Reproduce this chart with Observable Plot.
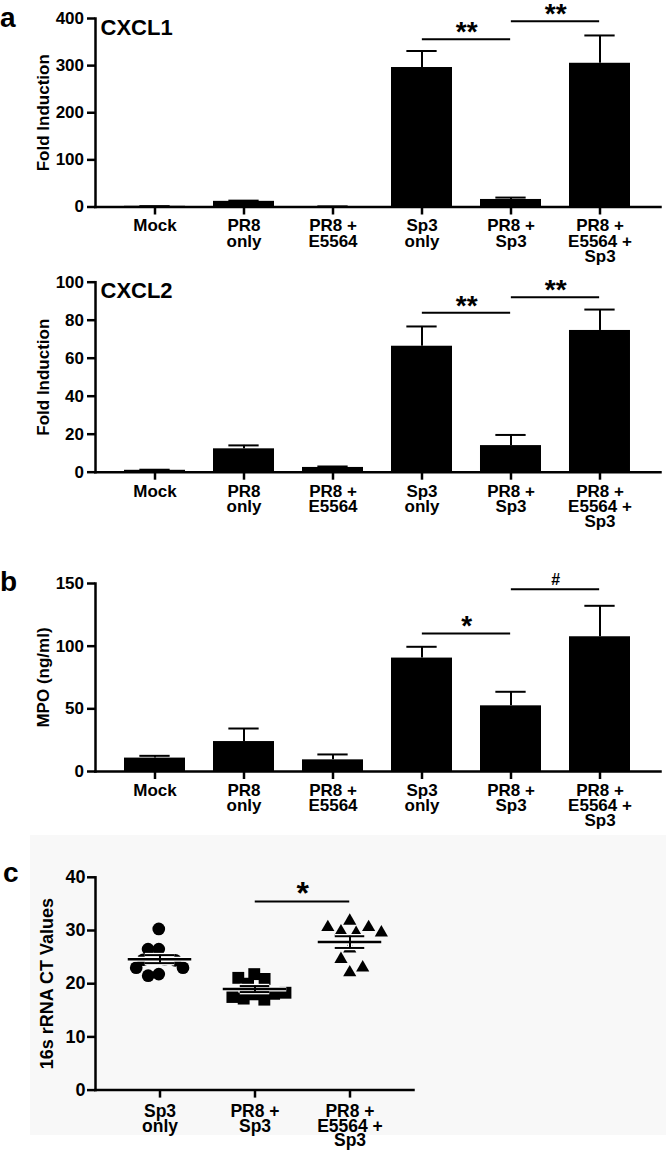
<!DOCTYPE html>
<html><head><meta charset="utf-8">
<script src="https://cdn.jsdelivr.net/npm/d3@7"></script>
<script src="https://cdn.jsdelivr.net/npm/@observablehq/plot@0.6"></script>
<style>
body{margin:0;background:#fff;}
#wrap{position:relative;width:666px;height:1154px;overflow:hidden;font-family:"Liberation Sans",Arial,Helvetica,sans-serif;}
#bgc{position:absolute;left:30px;top:835px;width:636px;height:300px;background:#f8f8f8;}
.letter{position:absolute;font-weight:bold;font-size:28px;line-height:28px;color:#000;}
</style></head><body>
<div id="wrap">
<div id="bgc"></div>
</div>
<script>
// ---------- data ----------
const categories = ["Mock", "PR8 only", "PR8 + E5564", "Sp3 only", "PR8 + Sp3", "PR8 + E5564 + Sp3"];
const categoryLabels = ["Mock", "PR8\nonly", "PR8 +\nE5564", "Sp3\nonly", "PR8 +\nSp3", "PR8 +\nE5564 +\nSp3"];

const cxcl1Mean = [1.5, 12, 1, 296, 16, 305];
const cxcl1Err = [0.3, 1.5, 0.3, 35, 4, 59];
const cxcl1Ticks = [0, 100, 200, 300, 400];
const cxcl1SigFrom = ["Sp3 only", "PR8 + Sp3"];
const cxcl1SigTo = ["PR8 + Sp3", "PR8 + E5564 + Sp3"];
const cxcl1SigY = [356, 394];
const cxcl1SigLabel = ["**", "**"];

const cxcl2Mean = [1, 12.3, 2.5, 66.3, 14, 74.6];
const cxcl2Err = [0.3, 1.8, 0.5, 10.4, 5.6, 11];
const cxcl2Ticks = [0, 20, 40, 60, 80, 100];
const cxcl2SigFrom = ["Sp3 only", "PR8 + Sp3"];
const cxcl2SigTo = ["PR8 + Sp3", "PR8 + E5564 + Sp3"];
const cxcl2SigY = [83.9, 92.1];
const cxcl2SigLabel = ["**", "**"];

const mpoMean = [10.7, 23.9, 9.3, 90.5, 52.4, 107.5];
const mpoErr = [1.8, 10.4, 4.3, 9, 11.2, 24.7];
const mpoTicks = [0, 50, 100, 150];
const mpoSigFrom = ["Sp3 only", "PR8 + Sp3"];
const mpoSigTo = ["PR8 + Sp3", "PR8 + E5564 + Sp3"];
const mpoSigY = [110.1, 145.5];
const mpoSigLabel = ["*", "#"];

const groupsC = ["Sp3 only", "PR8 + Sp3", "PR8 + E5564 + Sp3"];
const groupLabelsC = ["Sp3\nonly", "PR8 +\nSp3", "PR8 +\nE5564 +\nSp3"];
const sp3OnlyCT = [30.3, 26.5, 26.5, 24.7, 24.6, 24.5, 24.4, 23.0, 23.0, 21.8, 21.5];
const pr8Sp3CT = [21.8, 20.0, 20.9, 21.1, 18.0, 17.2, 17.0, 18.1, 17.5, 18.3];
const pr8E5564Sp3CT = [31.8, 29.8, 29.5, 30.6, 30.6, 29.6, 26.6, 24.6, 22.1, 23.0];
const ctTicks = [0, 10, 20, 30, 40];
const ctSigFrom = ["PR8 + Sp3"];
const ctSigTo = ["PR8 + E5564 + Sp3"];
const ctSigY = [35.45];
const ctSigLabel = ["*"];

// ---------- rendering ----------
const W = 666;
const FONT = '"Liberation Sans", Arial, Helvetica, sans-serif';
const wrap = document.getElementById("wrap");
const labelOf = new Map(categories.map((c, i) => [c, categoryLabels[i]]));
const labelOfC = new Map(groupsC.map((c, i) => [c, groupLabelsC[i]]));

function place(svg, top) {
  svg.style.position = "absolute";
  svg.style.left = "0px";
  svg.style.top = top + "px";
  wrap.appendChild(svg);
}
function letter(ch, left, top) {
  const d = document.createElement("div");
  d.className = "letter";
  d.textContent = ch;
  d.style.left = left + "px";
  d.style.top = top + "px";
  wrap.appendChild(d);
}

function barPanel(o) {
  const mL = 95, mR = 6, pi = 0.31, po = 0.314;
  const step = (W - mL - mR) / (categories.length - pi + 2 * po);
  const bw = step * (1 - pi);
  const data = categories.map((c, i) => ({cat: c, v: o.values[i], e: o.errs[i]}));
  const sig = o.sigY.map((y, i) => ({from: o.sigFrom[i], to: o.sigTo[i], y, label: o.sigLabel[i]}));
  const svg = Plot.plot({
    width: W,
    height: o.svgBottom - o.svgTop,
    marginLeft: mL, marginRight: mR,
    marginTop: o.frameTop - o.svgTop,
    marginBottom: o.svgBottom - o.frameBottom,
    style: {fontFamily: FONT, fontWeight: "bold", background: "transparent", overflow: "visible", color: "black"},
    x: {domain: categories, paddingInner: pi, paddingOuter: po, axis: null},
    y: {domain: [0, o.yMax], axis: null},
    marks: [
      Plot.barY(data, {x: "cat", y: "v", fill: "black"}),
      Plot.ruleX(data, {x: "cat", y1: "v", y2: d => d.v + d.e, stroke: "black", strokeWidth: 2}),
      Plot.tickY(data, {x: "cat", y: d => d.v + d.e, stroke: "black", strokeWidth: 2, inset: (bw - 31) / 2}),
      Plot.ruleY(sig, {x1: "from", x2: "to", y: "y", insetLeft: bw / 2, insetRight: bw / 2, stroke: "black", strokeWidth: 2}),
      Plot.text(sig.filter(d => d.label !== "#"), {x: "from", y: "y", text: "label", dx: step / 2, dy: -7, fontSize: 28}),
      Plot.text(sig.filter(d => d.label === "#"), {x: "from", y: "y", text: "label", dx: step / 2, dy: -9.5, fontSize: 16}),
      Plot.axisX({tickFormat: d => labelOf.get(d), tickSize: 8, tickPadding: 5.5, fontSize: 17, lineHeight: 0.9, strokeWidth: 2.5, label: null}),
      Plot.axisY({ticks: o.yTicks, tickSize: 8, tickPadding: 3.5, fontSize: 17, strokeWidth: 2.5, label: null}),
      Plot.frame({anchor: "left", strokeWidth: 2.5}),
      Plot.frame({anchor: "bottom", strokeWidth: 2.5}),
      o.title ? Plot.text([o.title], {frameAnchor: "top-left", textAnchor: "start", lineAnchor: "middle", dx: 5, dy: 9, fontSize: 22}) : null,
      Plot.text([o.yLabel], {frameAnchor: "left", textAnchor: "middle", lineAnchor: "middle", rotate: -90, dx: -52, fontSize: 17})
    ]
  });
  place(svg, o.svgTop);
}

function ctPanel(o) {
  const mL = 95, mR = W - 413, po = 0.165;
  const step = (W - mL - mR) / (groupsC.length + 2 * po);
  const half = step / 2;
  const series = [sp3OnlyCT, pr8Sp3CT, pr8E5564Sp3CT];
  const symbols = ["circle", "square", "triangle"];
  const radii = [6.35, 6.7, 4.9];
  const pads = [-2, -2, 4];
  const stats = groupsC.map((g, i) => {
    const v = series[i];
    const m = d3.mean(v), s = d3.deviation(v) / Math.sqrt(v.length);
    return {g, mean: m, lo: m - s, hi: m + s};
  });
  const sig = ctSigY.map((y, i) => ({from: ctSigFrom[i], to: ctSigTo[i], y, label: ctSigLabel[i]}));
  const meanIn = half - 32, capIn = half - 15;
  const lineMarks = (stroke, sw) => [
    Plot.tickY(stats, {x: "g", y: "mean", inset: meanIn, stroke, strokeWidth: sw + 0.5}),
    Plot.ruleX(stats, {x: "g", y1: "lo", y2: "hi", stroke, strokeWidth: sw}),
    Plot.tickY(stats, {x: "g", y: "lo", inset: capIn, stroke, strokeWidth: sw}),
    Plot.tickY(stats, {x: "g", y: "hi", inset: capIn, stroke, strokeWidth: sw})
  ];
  // dodge is centred on the frame middle (the middle band); shift each group to its own band
  // (the band scale also adds half a band to the dodged position, hence "- half")
  const dotMarks = groupsC.map((g, i) =>
    Plot.dot(series[i].map(v => ({g, v})),
      Plot.dodgeX({anchor: "middle", padding: pads[i]},
        {y: "v", r: radii[i], symbol: symbols[i], fill: "black", dx: (i - (groupsC.length - 1) / 2) * step - half})));
  const svg = Plot.plot({
    width: W,
    height: o.svgBottom - o.svgTop,
    marginLeft: mL, marginRight: mR,
    marginTop: o.frameTop - o.svgTop,
    marginBottom: o.svgBottom - o.frameBottom,
    style: {fontFamily: FONT, fontWeight: "bold", background: "transparent", overflow: "visible", color: "black"},
    x: {domain: groupsC, paddingInner: 0, paddingOuter: po, axis: null},
    y: {domain: [0, 40], axis: null},
    marks: [
      ...dotMarks,
      ...lineMarks("white", 4.5),
      ...lineMarks("black", 2),
      Plot.ruleY(sig, {x1: "from", x2: "to", y: "y", insetLeft: half, insetRight: half, stroke: "black", strokeWidth: 2}),
      Plot.text(sig, {x: "from", y: "y", text: "label", dx: half, dy: -8, fontSize: 32}),
      Plot.frame({anchor: "left", strokeWidth: 2.5}),
      Plot.frame({anchor: "bottom", strokeWidth: 2.5}),
      Plot.axisY({ticks: ctTicks, tickSize: 8, tickPadding: 2, fontSize: 18, strokeWidth: 2.5, label: null}),
      Plot.axisX({tickFormat: d => labelOfC.get(d), tickSize: 8, tickPadding: 9, fontSize: 17.5, lineHeight: 0.82, strokeWidth: 2.5, label: null}),
      Plot.text([o.yLabel], {frameAnchor: "left", textAnchor: "middle", lineAnchor: "middle", rotate: -90, dx: -48, fontSize: 18})
    ]
  });
  place(svg, o.svgTop);
}

barPanel({values: cxcl1Mean, errs: cxcl1Err, yMax: 400, yTicks: cxcl1Ticks, title: "CXCL1", yLabel: "Fold Induction",
  sigFrom: cxcl1SigFrom, sigTo: cxcl1SigTo, sigY: cxcl1SigY, sigLabel: cxcl1SigLabel,
  svgTop: 0, frameTop: 18, frameBottom: 206.5, svgBottom: 262});
barPanel({values: cxcl2Mean, errs: cxcl2Err, yMax: 100, yTicks: cxcl2Ticks, title: "CXCL2", yLabel: "Fold Induction",
  sigFrom: cxcl2SigFrom, sigTo: cxcl2SigTo, sigY: cxcl2SigY, sigLabel: cxcl2SigLabel,
  svgTop: 262, frameTop: 281.7, frameBottom: 471.7, svgBottom: 531.7});
barPanel({values: mpoMean, errs: mpoErr, yMax: 150, yTicks: mpoTicks, title: null, yLabel: "MPO (ng/ml)",
  sigFrom: mpoSigFrom, sigTo: mpoSigTo, sigY: mpoSigY, sigLabel: mpoSigLabel,
  svgTop: 531.7, frameTop: 582.7, frameBottom: 770.7, svgBottom: 830.7});
ctPanel({yLabel: "16s rRNA CT Values", svgTop: 830.7, frameTop: 876.5, frameBottom: 1089.3, svgBottom: 1154});

letter("a", 0, 4.3);
letter("b", 0, 568.3);
letter("c", 3, 859.3);
</script>
</body></html>
